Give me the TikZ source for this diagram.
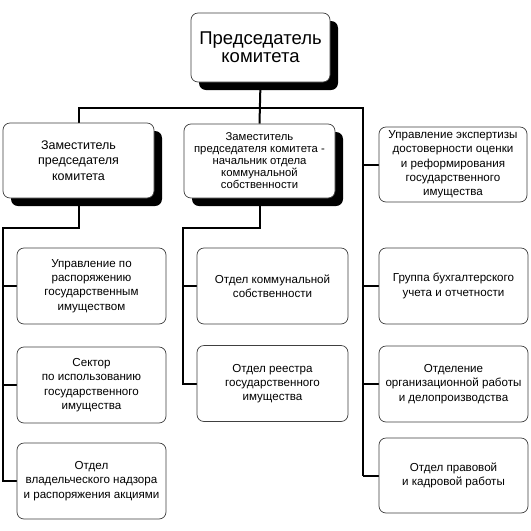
\documentclass[tikz,border=0pt]{standalone}
\usepackage{fontspec}
\setmainfont{Liberation Sans}
\usetikzlibrary{shadows,backgrounds}
\begin{document}
\begin{tikzpicture}[x=1pt,y=-1pt,
  box/.style={draw=black!75, line width=0.7pt, rounded corners=7pt, fill=white,
    align=center, inner sep=0pt},
  shad/.style={drop shadow={shadow xshift=8pt, shadow yshift=-8pt, fill=black, opacity=1}},
  conn/.style={draw=black, line width=2pt},
  ftop/.style={font=\fontsize{18.5}{18}\selectfont},
  fdep/.style={font=\fontsize{12.5}{15.5}\selectfont},
  fdepb/.style={font=\fontsize{11.3}{12}\selectfont},
  fn/.style={font=\fontsize{11.6}{14.3}\selectfont}]
\useasboundingbox (0,0) rectangle (531,531);

\node[box,shad,ftop,minimum width=139pt,minimum height=69pt] (top) at (260.5,47.5) {Председатель\\комитета};
\node[box,shad,fdep,minimum width=151pt,minimum height=75pt] (dep1) at (78.5,160.5) {Заместитель\\председателя\\комитета};
\node[box,shad,fdepb,minimum width=151pt,minimum height=74pt] (dep2) at (259.5,161) {Заместитель\\председателя комитета -\\начальник отдела\\коммунальной\\собственности};
\node[box,fn,minimum width=148pt,minimum height=75pt] (R1) at (453,164.5) {Управление экспертизы\\достоверности оценки\\и реформирования\\государственного\\имущества};

\node[box,fn,minimum width=149pt,minimum height=76pt] (L1) at (91.5,286) {Управление по\\распоряжению\\государственным\\имуществом};
\node[box,fn,minimum width=149pt,minimum height=76pt] (L2) at (91.5,385) {Сектор\\по использованию\\государственного\\имущества};
\node[box,fn,minimum width=149pt,minimum height=76pt] (L3) at (91.5,481) {Отдел\\владельческого надзора\\и распоряжения акциями};

\node[box,fn,minimum width=151pt,minimum height=76pt] (M1) at (272.5,286) {Отдел коммунальной\\собственности};
\node[box,fn,minimum width=151pt,minimum height=76pt] (M2) at (272.5,383.5) {Отдел реестра\\государственного\\имущества};

\node[box,fn,minimum width=149pt,minimum height=76pt] (R2) at (453.5,286) {Группа бухгалтерского\\учета и отчетности};
\node[box,fn,minimum width=149pt,minimum height=76pt] (R3) at (453.5,384) {Отделение\\организационной работы\\и делопроизводства};
\node[box,fn,minimum width=149pt,minimum height=75pt] (R4) at (453.5,475.5) {Отдел  правовой\\и кадровой работы};

\coordinate (rtop) at (363,108);
\coordinate (rbot) at (363,475.5);
\coordinate (lj) at (0,228);
\coordinate (lc) at (3,228);
\coordinate (mc) at (183,228);

\begin{scope}[on background layer]
\fill[white] (0,0) rectangle (531,531);
\draw[conn] (top.south) -- (dep2.north);
\draw[conn] (dep1.north) |- (rtop) -- (rbot);
\draw[conn] (rtop |- R1.west) -- (R1.west);
\draw[conn] (rtop |- R2.west) -- (R2.west);
\draw[conn] (rtop |- R3.west) -- (R3.west);
\draw[conn] (rbot) -- (R4.west);
\draw[conn] (dep1.south) -- (dep1.south |- lj) -- (lc) |- (L3.west);
\draw[conn] (lc |- L1.west) -- (L1.west);
\draw[conn] (lc |- L2.west) -- (L2.west);
\draw[conn] (dep2.south) -- (dep2.south |- lj) -- (mc) |- (M2.west);
\draw[conn] (mc |- M1.west) -- (M1.west);
\end{scope}
\end{tikzpicture}
\end{document}
